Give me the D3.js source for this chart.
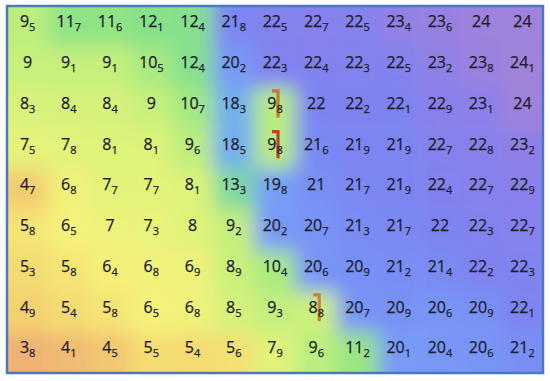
<!DOCTYPE html>
<html><head><meta charset="utf-8">
<script src="https://cdn.jsdelivr.net/npm/d3@7"></script>
<style>html,body{margin:0;padding:0;background:#fff;}svg{display:block;}</style>
</head><body>
<script>
const row0 = [9.5, 11.7, 11.6, 12.1, 12.4, 21.8, 22.5, 22.7, 22.5, 23.4, 23.6, 24, 24];
const row1 = [9, 9.1, 9.1, 10.5, 12.4, 20.2, 22.3, 22.4, 22.3, 22.5, 23.2, 23.8, 24.1];
const row2 = [8.3, 8.4, 8.4, 9, 10.7, 18.3, 9.8, 22, 22.2, 22.1, 22.9, 23.1, 24];
const row3 = [7.5, 7.8, 8.1, 8.1, 9.6, 18.5, 9.8, 21.6, 21.9, 21.9, 22.7, 22.8, 23.2];
const row4 = [4.7, 6.8, 7.7, 7.7, 8.1, 13.3, 19.8, 21, 21.7, 21.9, 22.4, 22.7, 22.9];
const row5 = [5.8, 6.5, 7, 7.3, 8, 9.2, 20.2, 20.7, 21.3, 21.7, 22, 22.3, 22.7];
const row6 = [5.3, 5.8, 6.4, 6.8, 6.9, 8.9, 10.4, 20.6, 20.9, 21.2, 21.4, 22.2, 22.3];
const row7 = [4.9, 5.4, 5.8, 6.5, 6.8, 8.5, 9.3, 8.8, 20.7, 20.9, 20.6, 20.9, 22.1];
const row8 = [3.8, 4.1, 4.5, 5.5, 5.4, 5.6, 7.9, 9.6, 11.2, 20.1, 20.4, 20.6, 21.2];
const grid = [row0,row1,row2,row3,row4,row5,row6,row7,row8];

const markerRows = [2, 3, 7];
const markerCols = [6, 6, 7];
const markerColors = ["#c57a2c", "#b8462c", "#cf7f2e"];

const colorStops = [3.5, 5, 6.5, 8, 9, 10.5, 12, 14, 18, 20, 21, 22, 23, 24.2];
const colorRange = ["#eeaa74","#f4d470","#f5f27a","#dff37a","#c8f07c","#a8ea80","#88e286","#7cd6a8","#72b2ea","#789cf6","#7890f6","#7c84f2","#8a80ea","#a282d8"];

const W = 550, H = 381;
const L = 7, R = 543, T = 6, B = 373;

const svg = d3.select("body").append("svg").attr("width", W).attr("height", H);
const nR = grid.length, nC = grid[0].length;
const x = d3.scaleBand().domain(d3.range(nC)).range([L, R]);
const y = d3.scaleBand().domain(d3.range(nR)).range([T, B]);
const color = d3.scaleLinear().domain(colorStops).range(colorRange).interpolate(d3.interpolateRgb).clamp(true);

const defs = svg.append("defs");
defs.append("clipPath").attr("id","clip").append("rect")
  .attr("x", L).attr("y", T).attr("width", R-L).attr("height", B-T);
const f = defs.append("filter").attr("id","blur").attr("filterUnits","userSpaceOnUse")
  .attr("x", -60).attr("y", -60).attr("width", W+120).attr("height", H+120);
f.append("feGaussianBlur").attr("stdDeviation", 9.5);

const cells = [];
grid.forEach((r, i) => r.forEach((v, j) => cells.push({i, j, v})));

const pad = 50;
const bg = svg.append("g").attr("clip-path","url(#clip)").append("g").attr("filter","url(#blur)");
bg.selectAll("rect").data(cells).join("rect")
  .attr("x", d => x(d.j) - (d.j === 0 ? pad : 0))
  .attr("y", d => y(d.i) - (d.i === 0 ? pad : 0))
  .attr("width", d => x.bandwidth() + (d.j === 0 ? pad : 0) + (d.j === nC-1 ? pad : 0) + 0.5)
  .attr("height", d => y.bandwidth() + (d.i === 0 ? pad : 0) + (d.i === nR-1 ? pad : 0) + 0.5)
  .attr("fill", d => color(d.v));

// markers
const mk = markerRows.map((r, k) => ({r, c: markerCols[k], col: markerColors[k]}));
svg.append("g").selectAll("path").data(mk).join("path")
  .attr("d", d => {
    const cx = x(d.c) + x.bandwidth()/2, cy = y(d.r) + y.bandwidth()/2;
    return `M${cx-3},${cy-17}L${cx+3},${cy-17}L${cx+3},${cy+9.5}`;
  })
  .attr("fill","none").attr("stroke", d => d.col).attr("stroke-width", 3.2);

// labels
const txt = svg.append("g").attr("font-family","'Open Sans', sans-serif").attr("fill","#1d1d2c");
txt.selectAll("text").data(cells).join("text")
  .attr("x", d => x(d.j) + x.bandwidth()/2)
  .attr("y", d => y(d.i) + y.bandwidth()/2 + 0.8)
  .attr("text-anchor","middle")
  .attr("font-size", 16)
  .attr("stroke", "#1d1d2c").attr("stroke-width", 0.25)
  .each(function(d) {
    const s = d3.select(this);
    const ip = Math.floor(d.v + 1e-9);
    const dec = Math.round((d.v - ip) * 10);
    s.append("tspan").text(String(ip));
    if (dec > 0) s.append("tspan").attr("font-size", 11).attr("dy", 4).text(String(dec));
  });

svg.append("rect").attr("x", L).attr("y", T).attr("width", R-L).attr("height", B-T)
  .attr("fill","none").attr("stroke","#4d78bf").attr("stroke-width", 2.5);
</script>
</body></html>
